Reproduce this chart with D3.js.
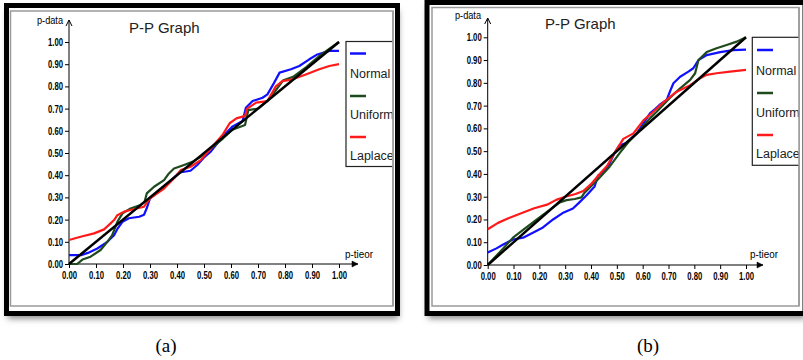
<!DOCTYPE html>
<html><head><meta charset="utf-8">
<script src="https://cdn.jsdelivr.net/npm/d3@7/dist/d3.min.js"></script>
<style>html,body{margin:0;padding:0;background:#fff;}svg{display:block;}</style>
</head><body>
<svg id="c" width="803" height="360"></svg>
<script>
// ---------- DATA ----------
const tickValues = [0,0.1,0.2,0.3,0.4,0.5,0.6,0.7,0.8,0.9,1.0];
const tickLabels = ["0.00","0.10","0.20","0.30","0.40","0.50","0.60","0.70","0.80","0.90","1.00"];
const seriesNames = ["Normal","Uniform","Laplace"];
const seriesColors = ["#1010ff","#1e4a1e","#ff1a1a"];
const chartTitle = "P-P Graph";
const panelCaptions = ["(a)","(b)"];
const diagonal = [[0,0],[1,1]];

// panel (a)  [p-theor, p-data]
const aNormal = [[0,0.04],[0.045,0.04],[0.07,0.05],[0.105,0.07],[0.142,0.10],[0.167,0.13],[0.18,0.16],[0.198,0.19],[0.222,0.206],[0.26,0.213],[0.278,0.222],[0.29,0.258],[0.30,0.295],[0.34,0.335],[0.39,0.39],[0.41,0.412],[0.45,0.42],[0.475,0.446],[0.50,0.48],[0.525,0.506],[0.57,0.575],[0.606,0.62],[0.643,0.644],[0.655,0.704],[0.68,0.734],[0.717,0.749],[0.735,0.764],[0.76,0.817],[0.78,0.862],[0.822,0.877],[0.853,0.892],[0.89,0.922],[0.92,0.944],[0.964,0.96],[1.0,0.96]];
const aUniform = [[0,0],[0.03,0],[0.05,0.02],[0.08,0.033],[0.117,0.063],[0.142,0.10],[0.16,0.13],[0.179,0.19],[0.198,0.228],[0.228,0.25],[0.265,0.266],[0.28,0.28],[0.288,0.318],[0.315,0.348],[0.352,0.378],[0.37,0.408],[0.389,0.43],[0.426,0.446],[0.457,0.46],[0.488,0.483],[0.525,0.52],[0.57,0.565],[0.605,0.605],[0.652,0.626],[0.664,0.693],[0.70,0.70],[0.738,0.738],[0.757,0.768],[0.794,0.828],[0.83,0.843],[0.88,0.888],[0.93,0.94],[1.0,1.0]];
const aLaplace = [[0,0.108],[0.043,0.123],[0.093,0.138],[0.13,0.156],[0.154,0.183],[0.167,0.198],[0.179,0.22],[0.204,0.236],[0.228,0.243],[0.278,0.258],[0.30,0.296],[0.352,0.34],[0.389,0.386],[0.414,0.423],[0.45,0.438],[0.488,0.468],[0.525,0.52],[0.57,0.584],[0.595,0.634],[0.62,0.656],[0.652,0.667],[0.66,0.70],[0.693,0.727],[0.735,0.734],[0.766,0.80],[0.79,0.824],[0.828,0.832],[0.877,0.854],[0.927,0.877],[0.964,0.892],[1.0,0.90]];

// panel (b)
const bNormal = [[0,0.055],[0.034,0.073],[0.06,0.09],[0.098,0.112],[0.137,0.12],[0.175,0.142],[0.214,0.165],[0.253,0.2],[0.29,0.228],[0.33,0.248],[0.356,0.276],[0.382,0.305],[0.414,0.345],[0.427,0.392],[0.453,0.412],[0.472,0.447],[0.49,0.49],[0.51,0.525],[0.538,0.537],[0.577,0.578],[0.603,0.622],[0.628,0.666],[0.648,0.685],[0.667,0.705],[0.693,0.725],[0.706,0.763],[0.719,0.798],[0.745,0.827],[0.777,0.849],[0.796,0.864],[0.816,0.9],[0.848,0.922],[0.9,0.935],[0.951,0.944],[1.0,0.946]];
const bUniform = [[0,0],[0.06,0.073],[0.098,0.12],[0.137,0.154],[0.188,0.198],[0.24,0.242],[0.279,0.275],[0.305,0.285],[0.337,0.29],[0.363,0.297],[0.375,0.318],[0.42,0.368],[0.472,0.432],[0.51,0.49],[0.545,0.54],[0.577,0.578],[0.628,0.644],[0.654,0.673],[0.706,0.735],[0.745,0.776],[0.784,0.813],[0.803,0.842],[0.816,0.9],[0.848,0.935],[0.886,0.952],[0.925,0.966],[0.964,0.981],[1.0,1.0]];
const bLaplace = [[0,0.157],[0.04,0.185],[0.08,0.205],[0.13,0.227],[0.18,0.249],[0.23,0.265],[0.265,0.286],[0.3,0.30],[0.34,0.312],[0.37,0.325],[0.4,0.355],[0.43,0.395],[0.462,0.435],[0.49,0.49],[0.525,0.554],[0.564,0.578],[0.603,0.635],[0.641,0.673],[0.68,0.714],[0.732,0.761],[0.784,0.79],[0.822,0.82],[0.848,0.835],[0.886,0.842],[0.938,0.849],[1.0,0.857]];

// ---------- DRAW ----------
const svg = d3.select("#c");
svg.append("rect").attr("width",803).attr("height",360).attr("fill","#fff");
const defs = svg.append("defs");
const blur = defs.append("filter").attr("id","sh").attr("x","-10%").attr("y","-10%").attr("width","120%").attr("height","130%");
blur.append("feGaussianBlur").attr("stdDeviation",3);

const sans = "'Liberation Sans',Arial,sans-serif";

const panels = [
  {id:"a", frame:[6.5,5.5,391,308], inner:[10.5,11,382.5,295], xr:[69,339], yr:[264,42], yTip:20, xTip:358,
   title:[129,33], pdata:[37,24], ptheor:[345,258], legend:[346,41.5,70,125], clipR:392.5,
   data:[aNormal,aUniform,aLaplace], caption:[166,352],
   leg:{dashX:350, dashY:[53.5,96,137], textX:350, textY:[77.5,119,160]}},
  {id:"b", frame:[427,2.5,378,311], inner:[432,7.5,367,298.5], xr:[487.7,746], yr:[265,37.3], yTip:18, xTip:763,
   title:[545,29], pdata:[455,19], ptheor:[750,258], legend:[752.3,37.3,70,128], clipR:799,
   data:[bNormal,bUniform,bLaplace], caption:[648,352],
   leg:{dashX:757, dashY:[50,93,135], textX:756, textY:[74.5,116.5,157.5]}}
];

panels.forEach((p,pi)=>{
  const g = svg.append("g");
  const [fx,fy,fw,fh] = p.frame;
  g.append("rect").attr("x",fx+1).attr("y",fy+5).attr("width",fw).attr("height",fh)
    .attr("fill","#888").attr("filter","url(#sh)");
  g.append("rect").attr("x",fx).attr("y",fy).attr("width",fw).attr("height",fh)
    .attr("fill","#fff").attr("stroke","#000").attr("stroke-width",5);
  const [ix,iy,iw,ih] = p.inner;
  g.append("rect").attr("x",ix).attr("y",iy).attr("width",iw).attr("height",ih)
    .attr("fill","none").attr("stroke","#9a9a9a").attr("stroke-width",1.5);

  const x = d3.scaleLinear().domain([0,1]).range(p.xr);
  const y = d3.scaleLinear().domain([0,1]).range(p.yr);

  g.append("line").attr("x1",x(0)).attr("x2",x(0)).attr("y1",y(0)).attr("y2",p.yTip)
    .attr("stroke","#000").attr("stroke-width",1);
  g.append("path").attr("d",`M${x(0)-3},${p.yTip+6}L${x(0)},${p.yTip}L${x(0)+3},${p.yTip+6}`)
    .attr("fill","none").attr("stroke","#000").attr("stroke-width",1);
  g.append("line").attr("x1",x(0)).attr("x2",p.xTip).attr("y1",y(0)).attr("y2",y(0))
    .attr("stroke","#000").attr("stroke-width",1);
  g.append("path").attr("d",`M${p.xTip-6},${y(0)-3}L${p.xTip},${y(0)}L${p.xTip-6},${y(0)+3}Z`)
    .attr("fill","#000").attr("stroke","#000").attr("stroke-width",0.5);

  const xAxis = d3.axisBottom(x).tickValues(tickValues).tickFormat((d,i)=>tickLabels[i]).tickSize(4).tickPadding(3);
  const yAxis = d3.axisLeft(y).tickValues(tickValues).tickFormat((d,i)=>tickLabels[i]).tickSize(4).tickPadding(2);
  const gx = g.append("g").attr("transform",`translate(0,${y(0)})`).call(xAxis);
  const gy = g.append("g").attr("transform",`translate(${x(0)},0)`).call(yAxis);
  [gx,gy].forEach(a=>{
    a.select(".domain").remove();
    a.selectAll(".tick line").attr("stroke","#000");
    a.selectAll(".tick text").attr("fill","#000").style("font-family",sans)
      .style("font-size","11px").style("font-weight","bold")
      .attr("textLength",15).attr("lengthAdjust","spacingAndGlyphs");
  });

  g.append("text").attr("x",p.title[0]).attr("y",p.title[1]).text(chartTitle)
    .style("font-family",sans).style("font-size","15px").attr("fill","#222");
  g.append("text").attr("x",p.pdata[0]).attr("y",p.pdata[1]).text("p-data")
    .style("font-family",sans).style("font-size","10px").attr("fill","#000")
    .attr("textLength",26).attr("lengthAdjust","spacingAndGlyphs");
  g.append("text").attr("x",p.ptheor[0]).attr("y",p.ptheor[1]).text("p-tieor")
    .style("font-family",sans).style("font-size","11px").attr("fill","#000")
    .attr("textLength",28).attr("lengthAdjust","spacingAndGlyphs");

  const line = d3.line().x(d=>x(d[0])).y(d=>y(d[1]));
  p.data.forEach((s,i)=>{
    g.append("path").datum(s).attr("d",line).attr("fill","none")
      .attr("stroke",seriesColors[i]).attr("stroke-width",2.2).attr("stroke-linejoin","round");
  });
  g.append("path").datum(diagonal).attr("d",line).attr("fill","none")
    .attr("stroke","#000").attr("stroke-width",2.5);

  const cid = "clip"+p.id;
  defs.append("clipPath").attr("id",cid).append("rect")
    .attr("x",0).attr("y",0).attr("width",p.clipR).attr("height",360);
  const lg = g.append("g").attr("clip-path",`url(#${cid})`);
  const [lx,ly,lw,lh] = p.legend;
  lg.append("rect").attr("x",lx).attr("y",ly).attr("width",lw).attr("height",lh)
    .attr("fill","#fff").attr("stroke","#222").attr("stroke-width",1.2);
  seriesNames.forEach((n,i)=>{
    lg.append("line").attr("x1",p.leg.dashX).attr("x2",p.leg.dashX+16)
      .attr("y1",p.leg.dashY[i]).attr("y2",p.leg.dashY[i])
      .attr("stroke",seriesColors[i]).attr("stroke-width",2.5);
    lg.append("text").attr("x",p.leg.textX).attr("y",p.leg.textY[i]).text(n)
      .style("font-family",sans).style("font-size","12.5px").attr("fill","#222");
  });
  g.append("line").attr("x1",ix+iw).attr("x2",ix+iw).attr("y1",iy).attr("y2",iy+ih)
    .attr("stroke","#9a9a9a").attr("stroke-width",1.5);

  svg.append("text").attr("x",p.caption[0]).attr("y",p.caption[1]).attr("text-anchor","middle")
    .text(panelCaptions[pi]).style("font-family","'Liberation Serif','Times New Roman',serif")
    .style("font-size","19px").attr("fill","#000");
});
</script>
</body></html>
